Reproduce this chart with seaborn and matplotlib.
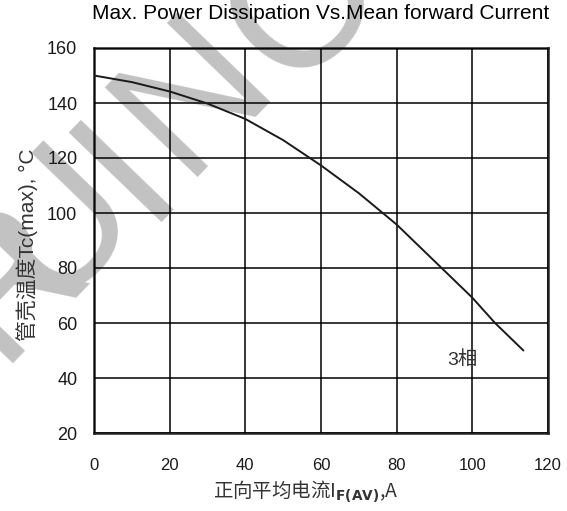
import matplotlib
matplotlib.use("Agg")
import matplotlib.pyplot as plt
import seaborn as sns
import pandas as pd

# Data
current = [0, 10, 20, 30, 40, 50, 60, 70, 80, 90, 100, 106, 113.5]
tc_max = [150, 147.6, 144.2, 139.8, 134.2, 126.5, 117.3, 107.2, 95.8, 82.5, 69.2, 60, 50]
x_ticks = [0, 20, 40, 60, 80, 100, 120]
y_ticks = [20, 40, 60, 80, 100, 120, 140, 160]
title = "Max. Power Dissipation Vs.Mean forward Current"
xlabel = r"正向平均电流I$_{\mathbf{F(AV)}}$,A"
ylabel = "管壳温度Tc(max), °C"
curve_label = "3相"
watermark_letters = ["R", "U", "I", "N", "C"]
# baseline-centre anchors of the watermark letters, in figure pixels (from top-left)
watermark_pos = [(45, 315), (95, 258), (163, 203), (230, 128), (338, 42)]

sns.set_theme(style="white")
plt.rcParams['font.family'] = ['Liberation Sans', 'Noto Sans CJK SC', 'DejaVu Sans']
plt.rcParams['mathtext.fontset'] = 'dejavusans'

df = pd.DataFrame({"I": current, "Tc": tc_max})

W, H = 567, 511
fig = plt.figure(figsize=(W / 100, H / 100), dpi=100)
fig.patch.set_facecolor("white")
ax = fig.add_axes([94 / W, 1 - 433 / H, 454 / W, 385 / H])
ax.set_facecolor("none")

# watermark (gray, behind everything)
for ch, (px, py) in zip(watermark_letters, watermark_pos):
    fig.text(px / W, 1 - py / H, ch, fontsize=135, color="#c2c2c2",
             rotation=46, rotation_mode="anchor", ha="center", va="baseline",
             family=['Liberation Sans Narrow', 'DejaVu Sans Condensed', 'Liberation Sans'],
             zorder=-5)

sns.lineplot(data=df, x="I", y="Tc", ax=ax, color="#1a1a1a", linewidth=1.4, zorder=4)

ax.set_xlim(0, 120)
ax.set_ylim(20, 160)
ax.set_xticks(x_ticks)
ax.set_yticks(y_ticks)
ax.set_xticklabels([str(v) for v in x_ticks])
ax.set_yticklabels([str(v) for v in y_ticks])
ax.grid(True, color="black", linewidth=1.1)
ax.set_axisbelow(False)
ax.tick_params(axis="both", length=0, labelcolor="#1a1a1a")
ax.tick_params(axis="x", pad=18, labelsize=12)
ax.tick_params(axis="y", pad=12, labelsize=13)
for s in ax.spines.values():
    s.set_visible(True)
    s.set_color("#222222")
    s.set_linewidth(1.8)

ax.set_title(title, fontsize=15, pad=21, color="black")
ax.set_xlabel(xlabel, fontsize=14, color="#333333", family=['Noto Sans CJK SC'])
ax.set_ylabel(ylabel, fontsize=15, color="#333333")
ax.xaxis.set_label_coords(0.465, -0.12)
ax.yaxis.set_label_coords(-0.124, 0.488)

ax.text(97.3, 46.5, curve_label, fontsize=14, color="#333333", ha="center", va="center", zorder=5)

fig.savefig("out.png", dpi=100)
